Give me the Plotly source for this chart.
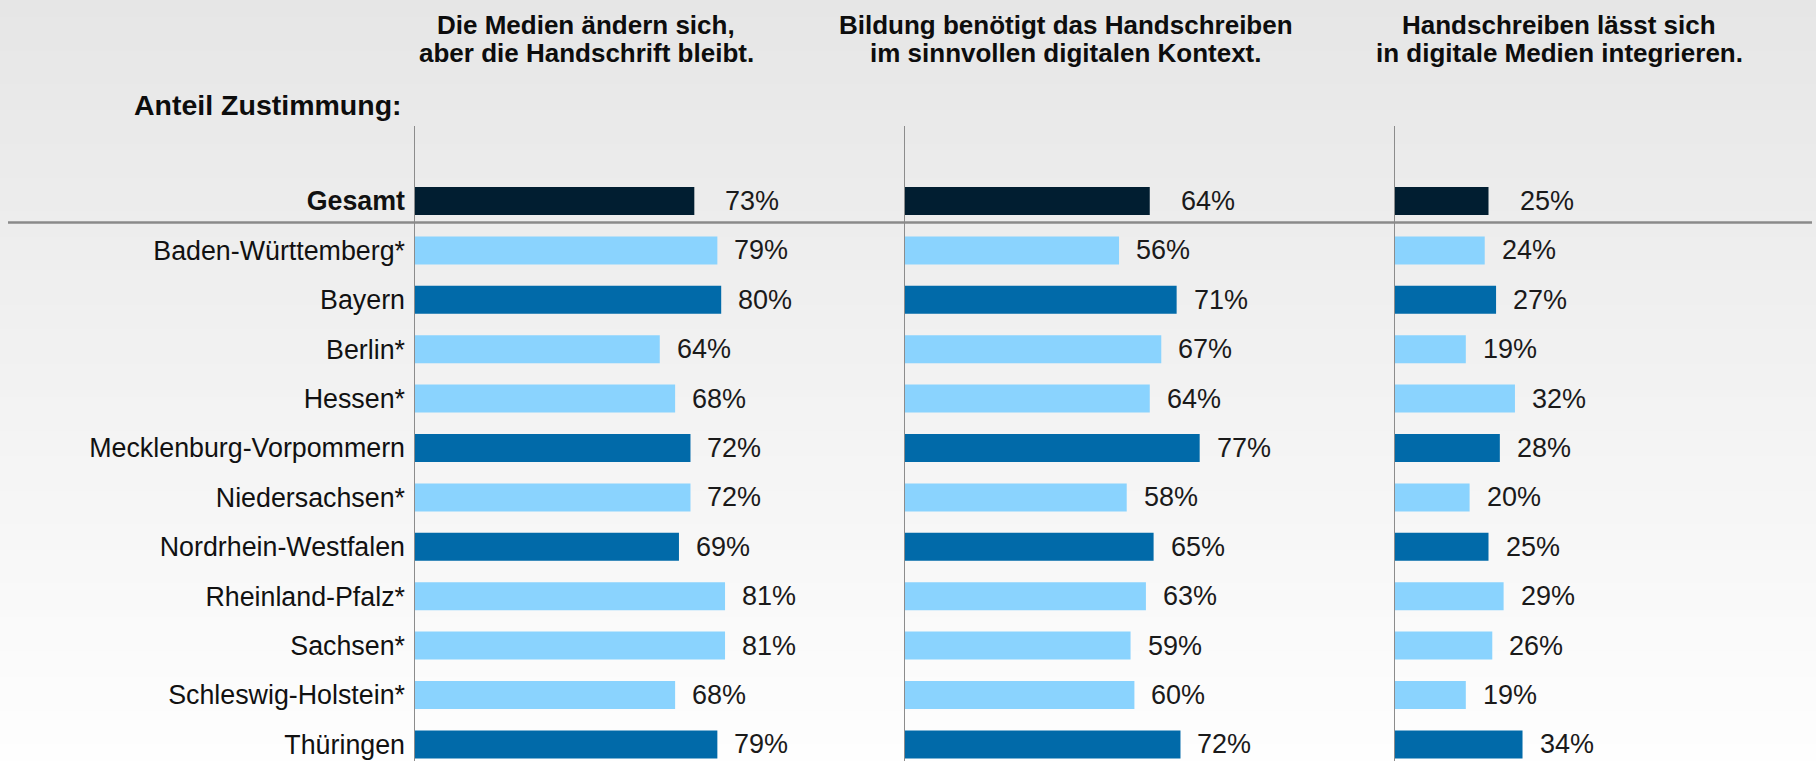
import plotly.graph_objects as go

# ---------------- data ----------------
categories = ["Gesamt", "Baden-Württemberg*", "Bayern", "Berlin*", "Hessen*",
              "Mecklenburg-Vorpommern", "Niedersachsen*", "Nordrhein-Westfalen",
              "Rheinland-Pfalz*", "Sachsen*", "Schleswig-Holstein*", "Thüringen"]
medien_bleibt = [73, 79, 80, 64, 68, 72, 72, 69, 81, 81, 68, 79]
bildung_kontext = [64, 56, 71, 67, 64, 77, 58, 65, 63, 59, 60, 72]
digital_integrieren = [25, 24, 27, 19, 32, 28, 20, 25, 29, 26, 19, 34]
headers = [["Die Medien ändern sich,", "aber die Handschrift bleibt."],
           ["Bildung benötigt das Handschreiben", "im sinnvollen digitalen Kontext."],
           ["Handschreiben lässt sich", "in digitale Medien integrieren."]]
group = ["total", "light", "dark", "light", "light", "dark", "light", "dark",
         "light", "light", "light", "dark"]
axis_title = "Anteil Zustimmung:"

# ---------------- styling / layout ----------------
W, H = 1816, 761
ROW0, ROWH = 201.0, 49.4
FONT = "Liberation Sans, Arial, sans-serif"
colors = {"total": "#011e31", "light": "#8ad3fe", "dark": "#016aa9"}
bar_colors = [colors[g] for g in group]


def py(p):
    """pixel row -> y-axis value"""
    return (p - ROW0) / ROWH


def ppx(p):
    return p / W


def ppy(p):
    return 1 - p / H


panels = [
    (medien_bleibt, (414, 903), 3.84, 586),
    (bildung_kontext, (904, 1394), 3.84, 1066),
    (digital_integrieren, (1394, 1816), 3.78, 1559),
]

fig = go.Figure()
rows = list(range(len(categories)))
shapes = []
annotations = []

# gradient background
n_strips = 90
top_c, bot_c = 230, 254
for k in range(n_strips):
    c = round(top_c + (bot_c - top_c) * k / (n_strips - 1))
    shapes.append(dict(type="rect", xref="paper", yref="paper", x0=0, x1=1,
                       y0=1 - (k + 1) / n_strips - 0.001, y1=1 - k / n_strips,
                       fillcolor=f"rgb({c},{c},{c})", line=dict(width=0), layer="below"))

for idx, (vals, (a, b), scale, hx) in enumerate(panels):
    ax = "x" if idx == 0 else f"x{idx + 1}"
    axkey = "xaxis" if idx == 0 else f"xaxis{idx + 1}"
    fig.add_trace(go.Bar(x=vals, y=rows, orientation="h", xaxis=ax, yaxis="y",
                         marker=dict(color=bar_colors, line=dict(width=0)),
                         width=28 / ROWH, hoverinfo="skip", showlegend=False))
    fig.update_layout(**{axkey: dict(domain=[ppx(a), ppx(b)], range=[0, (b - a) / scale],
                                     visible=False, fixedrange=True, anchor="y")})
    # vertical axis line
    shapes.append(dict(type="line", xref=ax, yref="y", x0=0, x1=0,
                       y0=py(126), y1=py(H), line=dict(color="#8c8c8c", width=2), layer="above"))
    # value labels
    for i, v in enumerate(vals):
        annotations.append(dict(x=v, y=i, xref=ax, yref="y", text=f"{v}%", showarrow=False,
                                xanchor="left", yanchor="middle",
                                xshift=29 if i == 0 else 15, yshift=0,
                                font=dict(size=27, color="#1a1a1a", family=FONT)))
    # headers
    for li, (line, ycen) in enumerate(zip(headers[idx], (25, 53))):
        annotations.append(dict(x=ppx(hx), y=ppy(ycen), xref="paper", yref="paper",
                                text=f"<b>{line}</b>", showarrow=False,
                                xanchor="center", yanchor="middle",
                                font=dict(size=26, color="#0d0d0d", family=FONT)))

# separator line under "Gesamt"
shapes.append(dict(type="line", xref="paper", yref="y", x0=ppx(8), x1=ppx(1812),
                   y0=py(222.5), y1=py(222.5), line=dict(color="#8a8a8a", width=2.5)))

annotations.append(dict(x=ppx(404), y=ppy(105), xref="paper", yref="paper",
                        text=f"<b>{axis_title}</b>", showarrow=False,
                        xanchor="right", yanchor="middle",
                        font=dict(size=28.5, color="#0d0d0d", family=FONT)))

ticktext = [f"<b>{c}</b>" if g == "total" else c for c, g in zip(categories, group)]

fig.update_layout(
    width=W, height=H,
    margin=dict(l=0, r=0, t=0, b=0),
    paper_bgcolor="#ffffff",
    plot_bgcolor="rgba(0,0,0,0)",
    barmode="overlay",
    yaxis=dict(domain=[0, 1], range=[py(H), py(0)], tickmode="array", tickvals=rows,
               ticktext=ticktext, ticks="", showgrid=False, zeroline=False, showline=False,
               ticklabelstandoff=8, fixedrange=True, anchor="x",
               tickfont=dict(size=26.8, color="#111111", family=FONT)),
    shapes=shapes,
    annotations=annotations,
    font=dict(family=FONT),
)

fig.write_html("out.html", config={"displayModeBar": False},
               post_script="document.body.style.margin='0';document.body.style.overflow='hidden';")
